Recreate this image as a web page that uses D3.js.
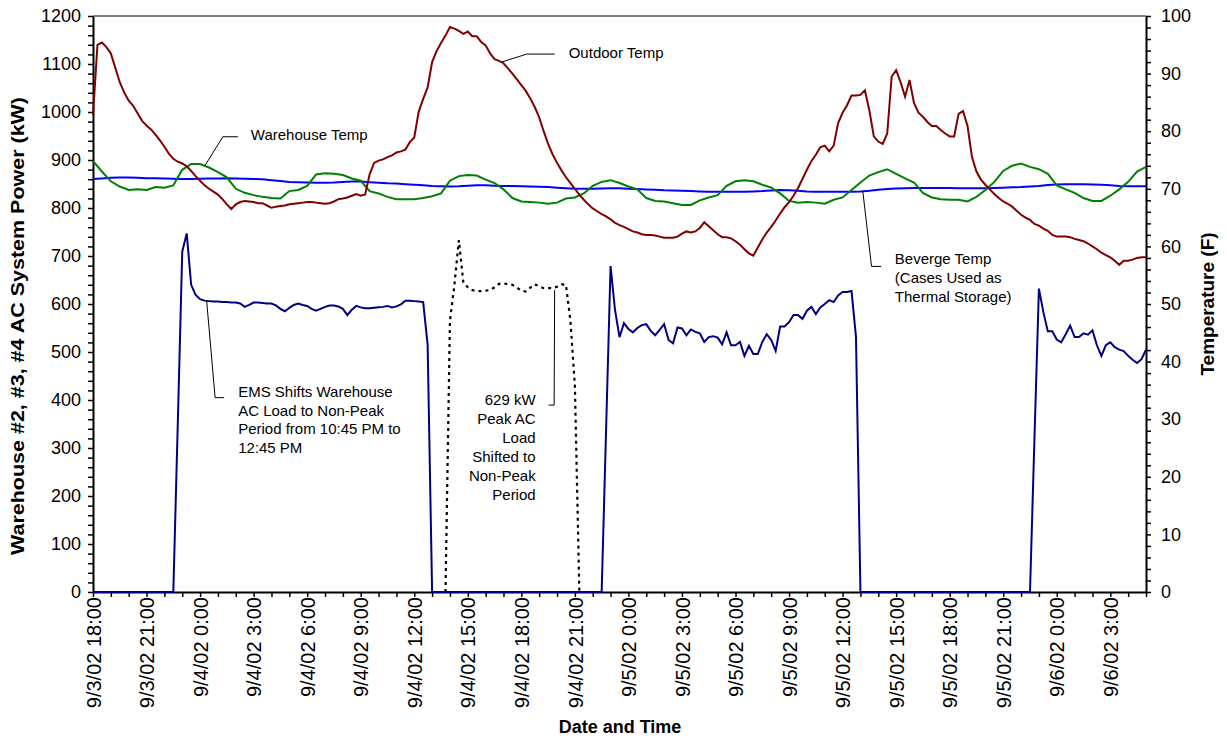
<!DOCTYPE html>
<html><head><meta charset="utf-8">
<script src="https://cdn.jsdelivr.net/npm/d3@7"></script>
<style>
body{margin:0;background:#fff}
text{font-family:"Liberation Sans",Arial,sans-serif;fill:#000}
</style>
</head><body>
<svg id="chart" width="1227" height="738"></svg>
<script>
// ---------- DATA ----------
const startDate = [2002, 8, 3, 18, 0];   // 9/3/02 18:00
const spanHours = 59;
const powerStepMin = 15;
const outdoorStepMin = 15;
const innerStepMin = 30;
const shiftedStartHour = 19.75;
const shiftedStepMin = 15;

// Warehouse #2,#3,#4 AC power (kW), every 15 min from 9/3/02 18:00
const powerKW = [
  0,0,0,0, 0,0,0,0, 0,0,0,0, 0,0,0,0, 0,0,0,350,
  709,747,640,619, 610,607,606,605, 605,604,604,603, 603,601,594,598,
  603,603,602,601, 601,597,590,585, 592,598,601,598, 596,590,586,590,
  594,597,597,595, 590,577,588,596, 593,591,591,592, 593,594,596,593,
  595,599,607,607, 606,605,604,515, 0,0,0,0,
  0,0,0,0, 0,0,0,0, 0,0,0,0, 0,0,0,0, 0,0,0,0, 0,0,0,0, 0,0,0,0, 0,0,0,0,
  0,0,0,340,
  679,587,531,560, 548,541,550,556, 558,544,535,546, 558,525,518,551,
  549,535,547,542, 539,521,531,533, 530,516,541,514, 514,521,492,513,
  496,496,521,537, 525,502,553,553, 562,577,577,569, 586,594,579,593,
  600,608,604,618, 625,625,627,532, 0,0,0,0,
  0,0,0,0, 0,0,0,0, 0,0,0,0, 0,0,0,0, 0,0,0,0, 0,0,0,0, 0,0,0,0, 0,0,0,0,
  0,0,0,320,
  632,583,543,543, 526,520,537,555, 531,531,539,536, 545,514,492,514,
  520,510,505,502, 492,484,477,485, 505
];

// Peak AC load shifted to non-peak period (kW), dotted, every 15 min from hour 19.75
const shiftedKW = [
  0,565,640,733,645,635,629,627,627,628,629,635,642,643,641,640,
  634,628,626,634,641,637,633,633,633,636,641,640,565,430,0
];

// Outdoor temperature (F), every 15 min
const outdoorTempF = [
  82.8,95.0,95.4,94.6, 93.5,91.0,88.5,86.7, 85.3,84.4,83.1,81.8, 81.0,80.3,79.4,78.4,
  77.3,76.1,75.2,74.7, 74.4,73.9,73.1,72.2, 71.4,70.6,70.0,69.5, 69.0,68.2,67.3,66.5,
  67.3,67.7,67.9,67.8, 67.7,67.5,67.5,67.1, 66.7,66.9,67.0,67.1, 67.3,67.4,67.5,67.6,
  67.7,67.7,67.6,67.5, 67.4,67.5,67.8,68.2, 68.3,68.5,68.8,69.1, 68.8,69.0,72.5,74.5,
  74.9,75.1,75.5,75.8, 76.3,76.5,76.8,78.1, 78.9,83.4,85.6,87.6, 92.0,93.9,95.3,96.6,
  98.1,97.8,97.4,96.9, 97.3,96.5,96.5,95.5, 94.9,93.5,92.5,92.2, 91.8,90.9,90.0,89.0,
  88.0,87.0,85.7,84.2, 82.4,80.0,77.8,76.0, 74.5,73.2,72.0,71.0, 70.0,69.0,68.1,67.3,
  66.6,66.1,65.6,65.2, 64.7,64.1,63.7,63.4, 63.0,62.6,62.4,62.1, 62.0,62.0,61.9,61.7,
  61.5,61.5,61.5,61.7, 62.2,62.6,62.4,62.6, 63.2,64.2,63.5,62.8, 62.1,61.6,61.6,61.4,
  60.9,60.3,59.5,58.8, 58.4,59.8,61.2,62.4, 63.4,64.5,65.7,66.8, 67.7,68.8,70.1,71.7,
  73.3,74.8,75.9,77.2, 77.5,76.5,77.5,81.4, 83.2,84.5,86.2,86.2, 86.3,87.1,83.6,79.1,
  78.2,77.8,79.6,89.5, 90.6,88.5,86.0,88.9, 84.9,83.2,82.5,81.6, 80.9,80.9,80.2,79.6,
  79.1,79.1,83.0,83.5, 80.9,75.5,73.0,71.6, 70.7,69.9,69.1,68.4, 67.8,67.4,66.9,66.2,
  65.5,65.0,64.6,63.9, 63.6,63.1,62.7,62.0, 61.7,61.7,61.7,61.6, 61.3,61.1,60.9,60.5,
  60.0,59.5,58.9,58.5, 58.1,57.5,56.8,57.5, 57.5,57.7,58.0,58.1, 58.1
];

// Warehouse temperature (F), every 30 min
const warehouseTempF = [
  74.8,73.0, 71.3,70.4, 69.8,69.9, 69.8,70.3, 70.2,70.6, 73.3,74.3, 74.3,73.7, 72.9,72.0,
  70.0,69.3, 68.9,68.6, 68.4,68.3, 69.6,69.8, 70.5,72.5, 72.7,72.6, 72.4,71.8, 71.4,69.6,
  69.2,68.6, 68.2,68.2, 68.2,68.4, 68.7,69.2, 71.4,72.2, 72.4,72.3, 71.6,71.0, 69.9,68.4,
  67.8,67.7, 67.6,67.4, 67.6,68.3, 68.5,69.2, 70.5,71.2, 71.5,71.0, 70.4,69.9, 68.4,67.9,
  67.8,67.5, 67.2,67.2, 68.0,68.5, 68.9,70.5, 71.3,71.5, 71.3,70.7, 70.2,69.2, 67.9,67.6,
  67.7,67.6, 67.4,68.1, 68.5,69.8, 71.1,72.3, 72.9,73.4, 72.6,71.8, 71.1,69.3, 68.5,68.2,
  68.1,68.1, 67.8,68.6, 69.8,71.2, 73.1,74.0, 74.4,73.8, 73.4,72.6, 70.6,69.9, 69.3,68.4,
  67.9,67.9, 68.8,69.9, 71.2,73.0, 73.8
];

// Beverage case temperature (F), every 30 min
const beverageTempF = [
  71.7,71.8, 71.9,71.95, 71.95,71.9, 71.85,71.85, 71.8,71.75, 71.7,71.7, 71.75,71.8, 71.8,71.85,
  71.8,71.75, 71.7,71.65, 71.5,71.35, 71.2,71.15, 71.1,71.05, 71.05,71.1, 71.2,71.25, 71.25,71.15,
  71.05,70.95, 70.9,70.8, 70.7,70.6, 70.5,70.45, 70.4,70.45, 70.55,70.6, 70.6,70.55, 70.5,70.5,
  70.45,70.4, 70.35,70.3, 70.2,70.1, 70.0,70.0, 70.0,70.05, 70.1,70.1, 70.0,69.95, 69.9,69.85,
  69.75,69.7, 69.65,69.6, 69.55,69.5, 69.5,69.5, 69.5,69.5, 69.55,69.6, 69.7,69.8, 69.75,69.65,
  69.55,69.5, 69.5,69.5, 69.5,69.5, 69.55,69.65, 69.85,69.95, 70.05,70.1, 70.15,70.15, 70.15,70.15,
  70.15,70.1, 70.1,70.1, 70.1,70.15, 70.2,70.25, 70.3,70.4, 70.5,70.65, 70.75,70.8, 70.8,70.8,
  70.75,70.7, 70.6,70.5, 70.45,70.45, 70.45
];

const leftTicksKW = [0,100,200,300,400,500,600,700,800,900,1000,1100,1200];
const rightTicksF = [0,10,20,30,40,50,60,70,80,90,100];
const xTickLabels = [
  "9/3/02 18:00","9/3/02 21:00",
  "9/4/02 0:00","9/4/02 3:00","9/4/02 6:00","9/4/02 9:00","9/4/02 12:00","9/4/02 15:00","9/4/02 18:00","9/4/02 21:00",
  "9/5/02 0:00","9/5/02 3:00","9/5/02 6:00","9/5/02 9:00","9/5/02 12:00","9/5/02 15:00","9/5/02 18:00","9/5/02 21:00",
  "9/6/02 0:00","9/6/02 3:00"
];
const labelEveryHours = 3;

const leftTitle = "Warehouse #2, #3, #4 AC System Power (kW)";
const rightTitle = "Temperature (F)";
const bottomTitle = "Date and Time";

// ---------- LAYOUT ----------
const M = {left: 93, right: 1146, top: 16, bottom: 592};
const svg = d3.select("#chart");

const t0 = new Date(...startDate);
const tAt = (mins) => d3.timeMinute.offset(t0, mins);
const x = d3.scaleTime().domain([t0, tAt(spanHours * 60)]).range([M.left, M.right]);
const yL = d3.scaleLinear().domain([0, 1200]).range([M.bottom, M.top]);
const yR = d3.scaleLinear().domain([0, 100]).range([M.bottom, M.top]);

// top border of plot area
svg.append("line").attr("x1", M.left).attr("x2", M.right).attr("y1", M.top).attr("y2", M.top)
  .attr("stroke", "#000").attr("stroke-width", 1);

// left axis
const leftMinor = d3.range(0, 1201, 20);
const gL = svg.append("g").attr("transform", `translate(${M.left},0)`)
  .call(d3.axisLeft(yL).tickValues(leftMinor).tickSize(5).tickSizeOuter(0).tickPadding(7)
    .tickFormat(d => leftTicksKW.includes(d) ? d : ""));
// right axis
const rightMinor = d3.range(0, 101, 2);
const gR = svg.append("g").attr("transform", `translate(${M.right},0)`)
  .call(d3.axisRight(yR).tickValues(rightMinor).tickSize(5).tickSizeOuter(0).tickPadding(10)
    .tickFormat(d => rightTicksF.includes(d) ? d : ""));
// bottom axis
const hourTicks = d3.range(0, spanHours + 1).map(h => tAt(h * 60));
const gB = svg.append("g").attr("transform", `translate(0,${M.bottom})`)
  .call(d3.axisBottom(x).tickValues(hourTicks).tickSize(5).tickSizeOuter(0)
    .tickFormat((d, i) => i % labelEveryHours === 0 ? xTickLabels[i / labelEveryHours] : ""));

[gL, gR, gB].forEach(g => {
  g.select(".domain").attr("stroke", "#000").attr("stroke-width", 2);
  g.selectAll(".tick line").attr("stroke", "#000").attr("stroke-width", 1.5);
  g.selectAll("text").style("font-family", '"Liberation Sans",Arial,sans-serif').attr("fill", "#000");
});
gL.selectAll("text").style("font-size", "18px");
gR.selectAll("text").style("font-size", "18px");
gB.selectAll("text").style("font-size", "20px")
  .attr("transform", "rotate(-90)").attr("text-anchor", "end")
  .attr("x", -5).attr("y", 0).attr("dy", "0.36em");

// axis titles
svg.append("text").attr("transform", `translate(24,${(M.top + M.bottom) / 2 + 22}) rotate(-90)`)
  .attr("text-anchor", "middle").style("font-weight", "bold").style("font-size", "19px")
  .attr("textLength", 458).attr("lengthAdjust", "spacingAndGlyphs").text(leftTitle);
svg.append("text").attr("transform", `translate(1214,${(M.top + M.bottom) / 2}) rotate(-90)`)
  .attr("text-anchor", "middle").style("font-weight", "bold").style("font-size", "19px").text(rightTitle);
svg.append("text").attr("x", 620).attr("y", 733)
  .attr("text-anchor", "middle").style("font-weight", "bold").style("font-size", "18px").text(bottomTitle);

// ---------- SERIES ----------
const lineL = (step, offsetMin) => d3.line().x((d, i) => x(tAt(offsetMin + i * step))).y(d => yL(d));
const lineR = (step) => d3.line().x((d, i) => x(tAt(i * step))).y(d => yR(d));

svg.append("path").datum(beverageTempF).attr("d", lineR(innerStepMin))
  .attr("fill", "none").attr("stroke", "#0000FF").attr("stroke-width", 2);
svg.append("path").datum(warehouseTempF).attr("d", lineR(innerStepMin))
  .attr("fill", "none").attr("stroke", "#008000").attr("stroke-width", 2);
svg.append("path").datum(outdoorTempF).attr("d", lineR(outdoorStepMin))
  .attr("fill", "none").attr("stroke", "#800000").attr("stroke-width", 2);
svg.append("path").datum(shiftedKW).attr("d", lineL(shiftedStepMin, shiftedStartHour * 60))
  .attr("fill", "none").attr("stroke", "#000").attr("stroke-width", 2.2).attr("stroke-dasharray", "3,4");
svg.append("path").datum(powerKW).attr("d", lineL(powerStepMin, 0))
  .attr("fill", "none").attr("stroke", "#000080").attr("stroke-width", 2);

// ---------- ANNOTATIONS ----------
const hx = h => x(tAt(h * 60));
const annotations = [
  {lines: ["Outdoor Temp"], t: 22.9, v: 92.0, axis: "R", pts: [[25,-8],[53,-8]], tx: 67, ty: -4.5, anchor: "start", lh: 19},
  {lines: ["Warehouse Temp"], t: 6.27, v: 74.0, axis: "R", pts: [[18,-29],[33,-29]], tx: 46, ty: -26, anchor: "start", lh: 19},
  {lines: ["EMS Shifts Warehouse","AC Load to Non-Peak","Period from 10:45 PM to","12:45 PM"], t: 6.37, v: 607, axis: "L",
    pts: [[8.5,97],[17.5,97]], tx: 31.5, ty: 96.5, anchor: "start", lh: 18.5},
  {lines: ["629 kW","Peak AC","Load","Shifted to","Non-Peak","Period"], t: 25.88, v: 629, axis: "L",
    pts: [[-0.5,115],[-6,115]], tx: -19, ty: 114.5, anchor: "end", lh: 19},
  {lines: ["Beverge Temp","(Cases Used as","Thermal Storage)"], t: 43.14, v: 69.55, axis: "R",
    pts: [[8.7,75],[18.3,75]], tx: 32, ty: 72.5, anchor: "start", lh: 19}
];
annotations.forEach(a => {
  const ax = hx(a.t), ay = a.axis === "L" ? yL(a.v) : yR(a.v);
  const poly = [[ax, ay]].concat(a.pts.map(p => [ax + p[0], ay + p[1]]));
  svg.append("path").attr("d", d3.line()(poly)).attr("fill", "none").attr("stroke", "#000").attr("stroke-width", 1);
  const tEl = svg.append("text").attr("x", ax + a.tx).attr("y", ay + a.ty).attr("text-anchor", a.anchor)
    .style("font-size", "15px");
  a.lines.forEach((l, i) => tEl.append("tspan").attr("x", ax + a.tx).attr("dy", i === 0 ? 0 : a.lh).text(l));
});
</script>
</body></html>
